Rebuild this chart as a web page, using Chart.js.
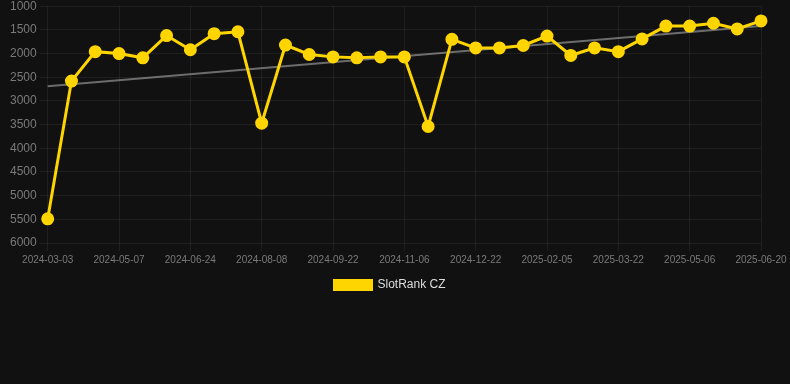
<!DOCTYPE html>
<html>
<head>
<meta charset="utf-8">
<script src="https://cdn.jsdelivr.net/npm/chart.js@4/dist/chart.umd.min.js"></script>
<style>
  html, body { margin: 0; padding: 0; background: #111111; overflow: hidden; }
  #wrap { width: 790px; height: 305px; margin-top: -4px; }
</style>
</head>
<body>
<div id="wrap"><canvas id="rank-chart"></canvas></div>
<script>
// dates of each sample (only every 3rd one is labelled on the axis)
const dates = [
  '2024-03-03', '2024-03-25', '2024-04-16', '2024-05-07', '2024-05-23', '2024-06-08',
  '2024-06-24', '2024-07-09', '2024-07-24', '2024-08-08', '2024-08-23', '2024-09-07',
  '2024-09-22', '2024-10-07', '2024-10-22', '2024-11-06', '2024-11-21', '2024-12-07',
  '2024-12-22', '2025-01-06', '2025-01-21', '2025-02-05', '2025-02-20', '2025-03-07',
  '2025-03-22', '2025-04-06', '2025-04-21', '2025-05-06', '2025-05-21', '2025-06-05',
  '2025-06-20'
];

// rank values
const rankCZ = [
  5490, 2580, 1960, 2000, 2090, 1620, 1920, 1580, 1540, 3470, 1820, 2020,
  2070, 2090, 2070, 2070, 3540, 1700, 1880, 1880, 1830, 1630, 2040, 1880,
  1960, 1690, 1420, 1420, 1360, 1480, 1310
];

// trend line end points (first and last sample)
const trendStart = 2690;
const trendEnd = 1420;

const yTicks = { min: 1000, max: 6000, step: 500 };
const labelEvery = 3;

// trend data: only the ends, the gap is spanned
const trendData = dates.map((d, i) => {
  if (i === 0) return trendStart;
  if (i === dates.length - 1) return trendEnd;
  return null;
});

const gridColor = 'rgba(255, 255, 255, 0.06)';
const tickColor = '#7a7a7a';

new Chart(document.getElementById('rank-chart'), {
  type: 'line',
  data: {
    labels: dates,
    datasets: [
      {
        label: 'SlotRank CZ',
        data: rankCZ,
        borderColor: '#ffd500',
        backgroundColor: '#ffd500',
        borderWidth: 3,
        pointRadius: 5,
        pointHoverRadius: 6,
        tension: 0
      },
      {
        label: 'Trend',
        data: trendData,
        borderColor: 'rgba(170, 170, 170, 0.6)',
        borderWidth: 2,
        pointRadius: 0,
        spanGaps: true
      }
    ]
  },
  options: {
    responsive: true,
    maintainAspectRatio: false,
    animation: false,
    layout: { padding: { top: 0, left: 0, right: 10 } },
    scales: {
      x: {
        grid: {
          color: ctx => (ctx.index % labelEvery === 0 ? gridColor : 'transparent')
        },
        border: { display: false },
        afterFit: scale => { scale.paddingRight = 29; },
        ticks: {
          color: tickColor,
          font: { size: 10 },
          autoSkip: false,
          maxRotation: 0,
          callback: function (val, idx) {
            return idx % labelEvery === 0 ? this.getLabelForValue(val) : '';
          }
        }
      },
      y: {
        reverse: true,
        min: yTicks.min,
        max: yTicks.max,
        grid: { color: gridColor },
        border: { display: false },
        afterFit: scale => { scale.width += 7; },
        ticks: {
          stepSize: yTicks.step,
          color: tickColor,
          font: { size: 12 },
          callback: val => String(val)
        }
      }
    },
    plugins: {
      legend: {
        position: 'bottom',
        labels: {
          color: '#dddddd',
          font: { size: 12 },
          boxWidth: 37,
          boxHeight: 9,
          filter: item => item.text !== 'Trend'
        }
      },
      tooltip: { enabled: false }
    }
  }
});
</script>
</body>
</html>
